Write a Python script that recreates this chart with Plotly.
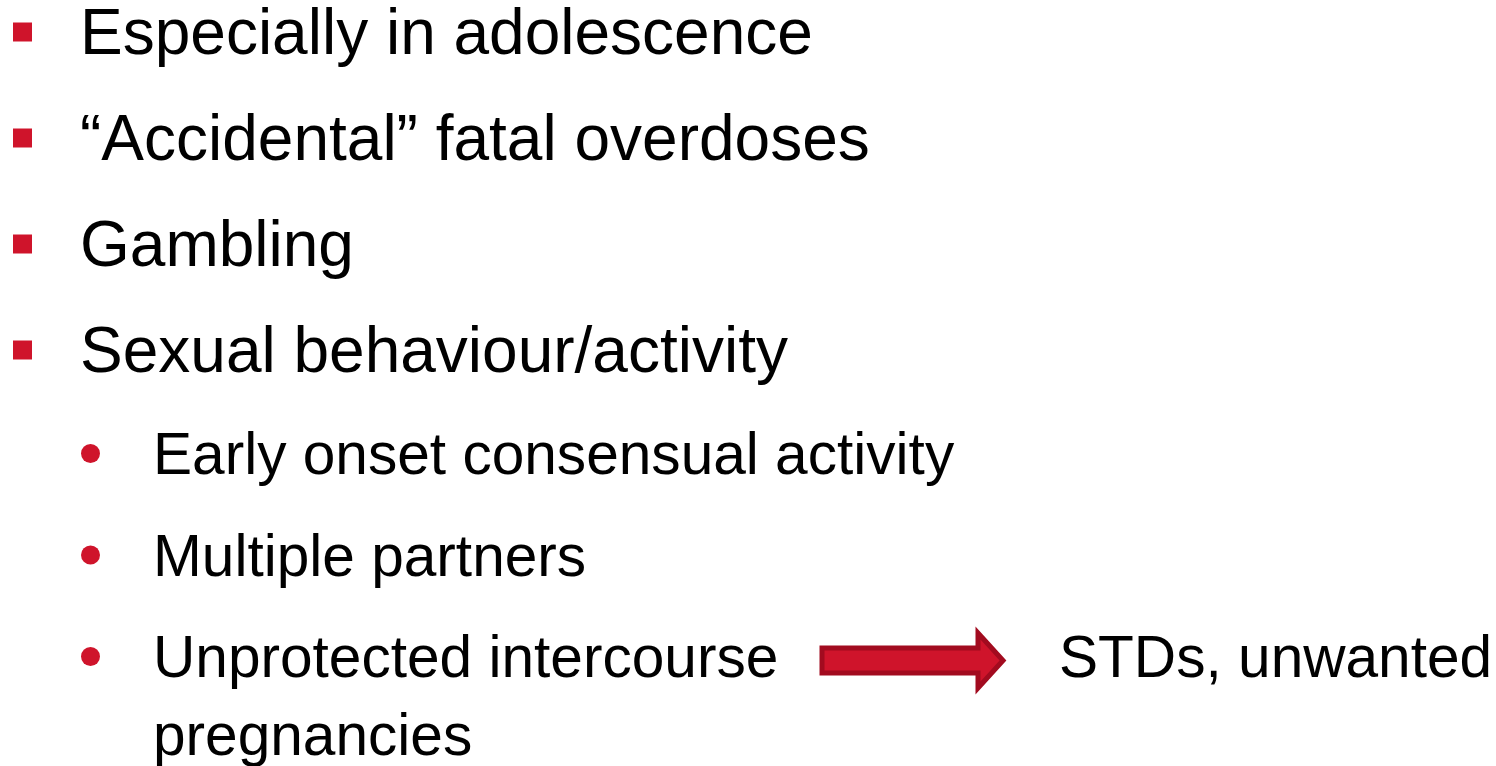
import plotly.graph_objects as go

# ---- content ----
main_items = ["Especially in adolescence", "“Accidental” fatal overdoses", "Gambling", "Sexual behaviour/activity"]
sub_items = ["Early onset consensual activity", "Multiple partners", "Unprotected intercourse"]
arrow_target = "STDs, unwanted"
wrap_text = "pregnancies"

# ---- layout constants (pixels) ----
W, H = 1496, 766
RED = "#CF142B"
DARK_RED = "#A20B1F"
FONT = "Liberation Sans, Arial, sans-serif"
MAIN_SIZE = 64
SUB_SIZE = 58.6
main_y0, main_step = 32, 106
sub_y0, sub_step = 453.5, 101.5
main_bullet_x, main_text_x = 22.5, 78
sub_bullet_x, sub_text_x = 90.5, 151
target_x = 1057
wrap_dy = 78

main_y = [main_y0 + i * main_step for i in range(len(main_items))]
sub_y = [sub_y0 + i * sub_step for i in range(len(sub_items))]

fig = go.Figure()

fig.add_trace(go.Scatter(
    x=[main_bullet_x] * len(main_items), y=main_y, mode="markers",
    marker=dict(symbol="square", size=19, color=RED, line=dict(width=0)),
    hoverinfo="skip", showlegend=False))
fig.add_trace(go.Scatter(
    x=[sub_bullet_x] * len(sub_items), y=sub_y, mode="markers",
    marker=dict(symbol="circle", size=19, color=RED, line=dict(width=0)),
    hoverinfo="skip", showlegend=False))


def label(x, y, txt, size):
    return dict(x=x, y=y, text=txt, xanchor="left", yanchor="middle",
                showarrow=False, font=dict(family=FONT, size=size, color="black"))


annotations = []
for txt, y in zip(main_items, main_y):
    annotations.append(label(main_text_x, y, txt, MAIN_SIZE))
for txt, y in zip(sub_items, sub_y):
    annotations.append(label(sub_text_x, y, txt, SUB_SIZE))
annotations.append(label(target_x, sub_y[-1], arrow_target, SUB_SIZE))
annotations.append(label(sub_text_x, sub_y[-1] + wrap_dy, wrap_text, SUB_SIZE))

# block arrow
ay = sub_y[-1] + 4
ax0, ax1, axh = 822, 1003, 978
half_shaft, half_head = 12.5, 27.5
arrow_path = (f"M {ax0},{ay-half_shaft} L {axh},{ay-half_shaft} L {axh},{ay-half_head} "
              f"L {ax1},{ay} L {axh},{ay+half_head} L {axh},{ay+half_shaft} L {ax0},{ay+half_shaft} Z")

fig.update_layout(
    width=W, height=H, margin=dict(l=0, r=0, t=0, b=0),
    paper_bgcolor="white", plot_bgcolor="white",
    xaxis=dict(range=[0, W], visible=False, fixedrange=True),
    yaxis=dict(range=[H, 0], visible=False, fixedrange=True),
    annotations=annotations,
    shapes=[dict(type="path", path=arrow_path, xref="x", yref="y",
                 fillcolor=RED, line=dict(color=DARK_RED, width=5))],
    showlegend=False,
)

fig.write_html("out.html", config={"displayModeBar": False},
               post_script="document.body.style.margin='0';document.body.style.overflow='hidden';")
